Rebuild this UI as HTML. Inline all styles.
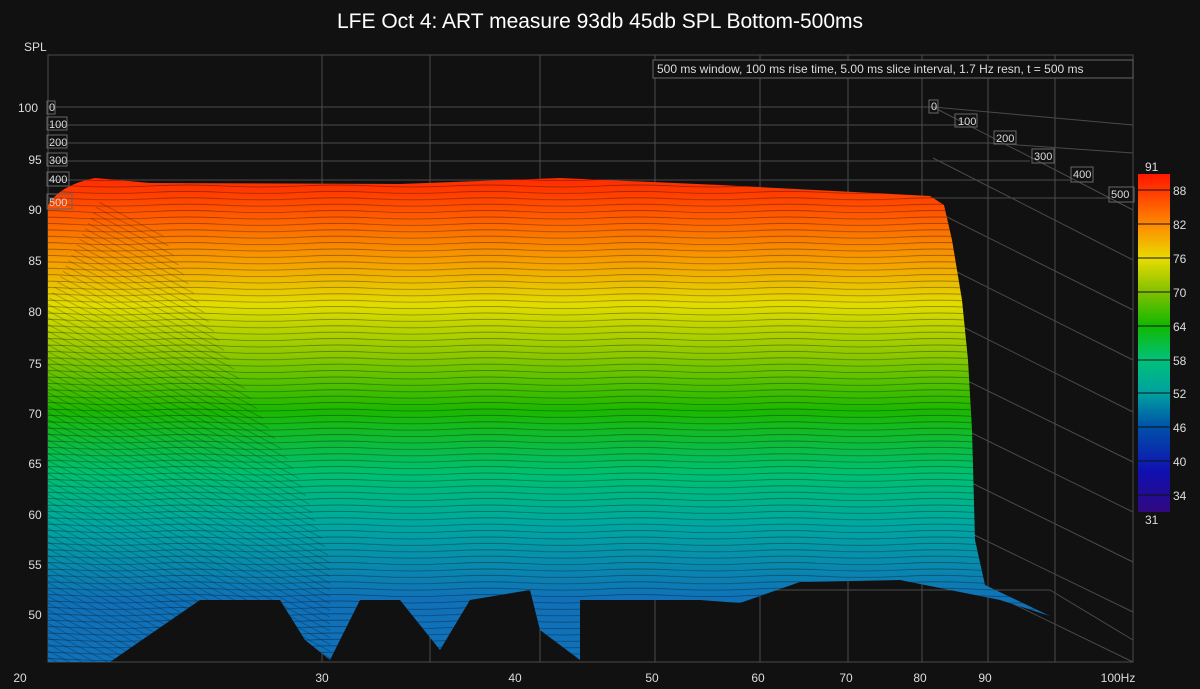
<!DOCTYPE html>
<html><head><meta charset="utf-8"><style>
html,body{margin:0;padding:0;background:#111;}
svg{display:block;font-family:"Liberation Sans",sans-serif;}
</style></head><body>
<svg width="1200" height="689" viewBox="0 0 1200 689" xmlns="http://www.w3.org/2000/svg">
<defs>
<linearGradient id="surf" gradientUnits="userSpaceOnUse" x1="0" y1="178" x2="0" y2="600">
<stop offset="0" stop-color="#ff2a00"/>
<stop offset="0.09" stop-color="#ff5a00"/>
<stop offset="0.2" stop-color="#f5a000"/>
<stop offset="0.3" stop-color="#e2dc00"/>
<stop offset="0.42" stop-color="#8cc800"/>
<stop offset="0.55" stop-color="#1cb800"/>
<stop offset="0.7" stop-color="#00c070"/>
<stop offset="0.82" stop-color="#00a8a0"/>
<stop offset="1" stop-color="#1070b8"/>
</linearGradient>
<linearGradient id="cb" x1="0" y1="0" x2="0" y2="1">
<stop offset="0" stop-color="#ff1800"/>
<stop offset="0.05" stop-color="#ff3a00"/>
<stop offset="0.15" stop-color="#ff8a00"/>
<stop offset="0.25" stop-color="#e8dc00"/>
<stop offset="0.35" stop-color="#80c000"/>
<stop offset="0.45" stop-color="#10b800"/>
<stop offset="0.55" stop-color="#00c27a"/>
<stop offset="0.65" stop-color="#00a0a0"/>
<stop offset="0.75" stop-color="#0050a8"/>
<stop offset="0.88" stop-color="#1010b0"/>
<stop offset="1" stop-color="#300880"/>
</linearGradient>
<pattern id="pl" patternUnits="userSpaceOnUse" x="0" y="183" width="150" height="6.4">
<path d="M0,3 Q37.5,1 75,3 T150,3" fill="none" stroke="#000" stroke-opacity="0.45" stroke-width="0.7"/>
</pattern>
<pattern id="pl2" patternUnits="userSpaceOnUse" x="0" y="183" width="60" height="6" patternTransform="rotate(28)">
<path d="M0,3 H60" fill="none" stroke="#000" stroke-opacity="0.3" stroke-width="0.7"/>
</pattern>
</defs>
<rect width="1200" height="689" fill="#111"/>
<g stroke="#4a4a4a" stroke-width="1" fill="none">
<path d="M48,55 H1133 V662 H48 Z"/>
<path d="M322,55 V662 M430,55 V662 M540,55 V662 M655,55 V662 M760,55 V662 M848,55 V662 M922,55 V662 M988,55 V662 M1055,55 V662"/>
<path d="M48,107 L933,107 L1133,125 M48,125 L960,125 M48,143 L990,143 L1133,153 M48,161 L1030,161 M48,180 L1070,180 M48,198 L1110,198"/>
<path d="M933,107 L1133,210 M933,158 L1133,260 M933,210 L1133,310 M933,260 L1133,360 M933,312 L1133,412 M933,364 L1133,462 M933,414 L1133,512 M933,464 L1133,562 M933,515 L1133,612 M933,565 L1133,662"/>
<path d="M48,590 L1050,590 L1133,640"/>
</g>
<path d="M48,205 Q60,185 95,178 L150,183 L400,184 L560,178 L720,185 L930,196 L944,205 L952,240 L962,300 L968,360 L972,430 L975,540 L985,585 L1050,616 L1000,600 L900,580 L800,582 L740,603 L700,600 L640,600 L580,600 L580,660 L540,630 L530,590 L470,600 L440,650 L400,600 L360,600 L330,660 L305,640 L280,600 L200,600 L110,662 L48,662 Z" fill="url(#surf)"/>
<path d="M48,205 Q60,185 95,178 L150,183 L400,184 L560,178 L720,185 L930,196 L944,205 L952,240 L962,300 L968,360 L972,430 L975,540 L985,585 L1050,616 L1000,600 L900,580 L800,582 L740,603 L700,600 L640,600 L580,600 L580,660 L540,630 L530,590 L470,600 L440,650 L400,600 L360,600 L330,660 L305,640 L280,600 L200,600 L110,662 L48,662 Z" fill="url(#pl)"/>
<path d="M48,300 L100,200 L160,230 L240,380 L300,480 L330,560 L330,660 L305,640 L280,600 L200,600 L110,662 L48,662 Z" fill="url(#pl2)"/>
<g fill="#ddd" font-size="12">
<text x="28" y="112" text-anchor="middle">100</text><text x="35" y="164" text-anchor="middle">95</text>
<text x="35" y="214" text-anchor="middle">90</text><text x="35" y="265" text-anchor="middle">85</text>
<text x="35" y="316" text-anchor="middle">80</text><text x="35" y="368" text-anchor="middle">75</text>
<text x="35" y="418" text-anchor="middle">70</text><text x="35" y="468" text-anchor="middle">65</text>
<text x="35" y="519" text-anchor="middle">60</text><text x="35" y="569" text-anchor="middle">55</text>
<text x="35" y="619" text-anchor="middle">50</text>
<text x="24" y="51">SPL</text>
<text x="20" y="682" text-anchor="middle">20</text><text x="322" y="682" text-anchor="middle">30</text>
<text x="515" y="682" text-anchor="middle">40</text><text x="652" y="682" text-anchor="middle">50</text>
<text x="758" y="682" text-anchor="middle">60</text><text x="846" y="682" text-anchor="middle">70</text>
<text x="920" y="682" text-anchor="middle">80</text><text x="985" y="682" text-anchor="middle">90</text>
<text x="1118" y="682" text-anchor="middle">100Hz</text>
</g>
<g fill="#ddd" font-size="11">
<text x="49" y="111">0</text><text x="49" y="128">100</text><text x="49" y="146">200</text>
<text x="49" y="164">300</text><text x="49" y="183">400</text><text x="49" y="206">500</text>
<text x="931" y="110">0</text><text x="958" y="125">100</text><text x="996" y="142">200</text>
<text x="1034" y="160">300</text><text x="1073" y="178">400</text><text x="1111" y="198">500</text>
</g>
<g fill="none" stroke="#666" stroke-width="1">
<rect x="47" y="101" width="8" height="13"/><rect x="47" y="117" width="20" height="13"/>
<rect x="47" y="135" width="20" height="13"/><rect x="47" y="153" width="20" height="13"/>
<rect x="47" y="172" width="22" height="14"/><rect x="47" y="194" width="25" height="15"/>
<rect x="929" y="100" width="9" height="13"/><rect x="955" y="114" width="22" height="13"/>
<rect x="994" y="131" width="22" height="13"/><rect x="1032" y="149" width="22" height="14"/>
<rect x="1071" y="167" width="22" height="15"/><rect x="1109" y="187" width="25" height="15"/>
</g>
<rect x="653" y="60" width="480" height="18" fill="#111" stroke="#666"/>
<text x="657" y="73" fill="#ddd" font-size="12">500 ms window, 100 ms rise time, 5.00 ms slice interval, 1.7 Hz resn, t = 500 ms</text>
<text x="600" y="28" fill="#fff" font-size="21" text-anchor="middle">LFE Oct 4: ART measure 93db 45db SPL Bottom-500ms</text>
<rect x="1138" y="174" width="32" height="338" fill="url(#cb)"/>
<g stroke="#111" stroke-width="1"><path d="M1138,190H1170M1138,224H1170M1138,258H1170M1138,292H1170M1138,326H1170M1138,360H1170M1138,393H1170M1138,427H1170M1138,461H1170M1138,495H1170"/></g>
<g fill="#ddd" font-size="12">
<text x="1145" y="171">91</text><text x="1173" y="195">88</text><text x="1173" y="229">82</text>
<text x="1173" y="263">76</text><text x="1173" y="297">70</text><text x="1173" y="331">64</text>
<text x="1173" y="365">58</text><text x="1173" y="398">52</text><text x="1173" y="432">46</text>
<text x="1173" y="466">40</text><text x="1173" y="500">34</text><text x="1145" y="524">31</text>
</g>
</svg>
</body></html>
